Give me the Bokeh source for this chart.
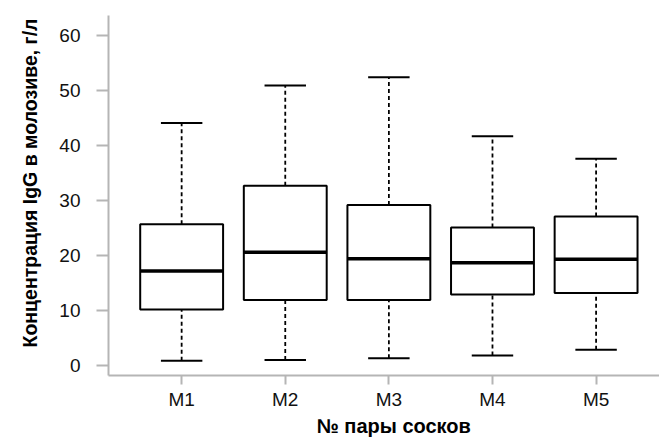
from bokeh.plotting import figure
from bokeh.models import ColumnDataSource, FixedTicker, Range1d, Title
from bokeh.embed import file_html
from bokeh.resources import INLINE

categories = ["M1", "M2", "M3", "M4", "M5"]
positions = [1, 2, 3, 4, 5]
whisker_low = [0.85, 1.0, 1.3, 1.8, 2.85]
q1 = [10.2, 11.9, 11.9, 12.9, 13.2]
median = [17.2, 20.6, 19.4, 18.7, 19.3]
q3 = [25.7, 32.7, 29.2, 25.1, 27.1]
whisker_high = [44.1, 50.9, 52.4, 41.7, 37.6]
y_ticks = [0, 10, 20, 30, 40, 50, 60]

x_title = "№ пары сосков"
y_title = "Концентрация IgG в молозиве, г/л"

BOX_W = 0.8
CAP_W = 0.4

src = ColumnDataSource(dict(
    x=positions,
    lo=whisker_low, q1=q1, med=median, q3=q3, hi=whisker_high,
    bl=[p - BOX_W / 2 for p in positions], br=[p + BOX_W / 2 for p in positions],
    cl=[p - CAP_W / 2 for p in positions], cr=[p + CAP_W / 2 for p in positions],
))

FONT = "Liberation Sans"
AXIS_GRAY = "#b5b5b5"

p = figure(width=659, height=445, output_backend="svg", toolbar_location=None,
           x_range=Range1d(0.294, 5.612), y_range=Range1d(-1.818, 63.636),
           min_border_left=107, min_border_right=0, min_border_top=15, min_border_bottom=70)
p.outline_line_color = None
p.grid.visible = False
p.background_fill_color = "white"
p.border_fill_color = "white"

# whiskers (dashed)
p.segment(x0="x", y0="q3", x1="x", y1="hi", source=src, line_color="black",
          line_width=1.8, line_dash="4 3")
p.segment(x0="x", y0="lo", x1="x", y1="q1", source=src, line_color="black",
          line_width=1.8, line_dash="4 3")
# caps
p.segment(x0="cl", y0="hi", x1="cr", y1="hi", source=src, line_color="black", line_width=2)
p.segment(x0="cl", y0="lo", x1="cr", y1="lo", source=src, line_color="black", line_width=2)
# boxes
p.quad(left="bl", right="br", bottom="q1", top="q3", source=src,
       fill_color="white", line_color="black", line_width=2)
# medians
p.segment(x0="bl", y0="med", x1="br", y1="med", source=src, line_color="black", line_width=3.5)

# x axis
xa = p.xaxis[0]
xa.ticker = FixedTicker(ticks=positions)
xa.major_label_overrides = {pos: c for pos, c in zip(positions, categories)}
xa.major_label_text_font = FONT
xa.major_label_text_font_size = "19px"
xa.major_label_text_color = "#111111"
xa.major_label_standoff = 4
xa.axis_line_color = AXIS_GRAY
xa.axis_line_width = 2
xa.major_tick_line_color = AXIS_GRAY
xa.major_tick_line_width = 2
xa.major_tick_out = 9
xa.major_tick_in = 0
xa.minor_tick_line_color = None

# y axis
ya = p.yaxis[0]
ya.ticker = FixedTicker(ticks=y_ticks)
ya.major_label_text_font = FONT
ya.major_label_text_font_size = "19px"
ya.major_label_text_color = "#111111"
ya.major_label_standoff = 16
ya.axis_line_color = AXIS_GRAY
ya.axis_line_width = 2
ya.major_tick_line_color = AXIS_GRAY
ya.major_tick_line_width = 2
ya.major_tick_out = 12
ya.major_tick_in = 0
ya.minor_tick_line_color = None

# axis titles as side titles (allows offset along the axis)
p.add_layout(Title(text=x_title, align="left", offset=208, standoff=0,
                   text_font=FONT, text_font_style="bold", text_font_size="20px",
                   text_color="black"), "below")
p.add_layout(Title(text=y_title, align="left", offset=28, standoff=32,
                   text_font=FONT, text_font_style="bold", text_font_size="19.5px",
                   text_color="black"), "left")

open("out.html", "w").write(file_html(p, INLINE))
